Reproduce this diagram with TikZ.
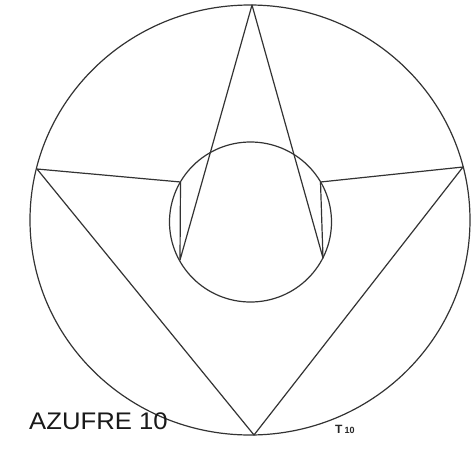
\documentclass[tikz,border=0pt]{standalone}
\usepackage{fontspec}
\setmainfont{Liberation Sans}
\begin{document}
\begin{tikzpicture}[x=1pt,y=-1pt,
  ln/.style={draw=black!80,line width=1.2pt,line join=round,line cap=round}]
\useasboundingbox[fill=white] (0,0) rectangle (471,453);
\coordinate (O) at (250,220);
\coordinate (I) at (250.5,222);
\coordinate (T) at (252,5);
\coordinate (B) at (254,435);
\coordinate (L) at (37,169);
\coordinate (R) at (463,167);
\coordinate (LT) at (180.5,182);
\coordinate (LB) at (180,260);
\coordinate (RT) at (320.5,182);
\coordinate (RB) at (323,258);
\draw[ln] (O) ellipse [x radius=220, y radius=215];
\draw[ln] (I) ellipse [x radius=81, y radius=80];
\draw[ln] (L) -- (LT) -- (LB) -- (T) -- (RB) -- (RT) -- (R) -- (B) -- cycle;
\node[anchor=base west,inner sep=0pt,font=\fontsize{24}{24}\selectfont,xscale=1.07,text=black!90] (lab) at (29,429.5) {AZUFRE 10};
\node[anchor=base west,inner sep=0pt,font=\fontsize{12}{12}\selectfont\bfseries,text=black!85] (tag) at (335,433.5) {T\,\fontsize{9}{9}\selectfont 10};
\end{tikzpicture}
\end{document}
